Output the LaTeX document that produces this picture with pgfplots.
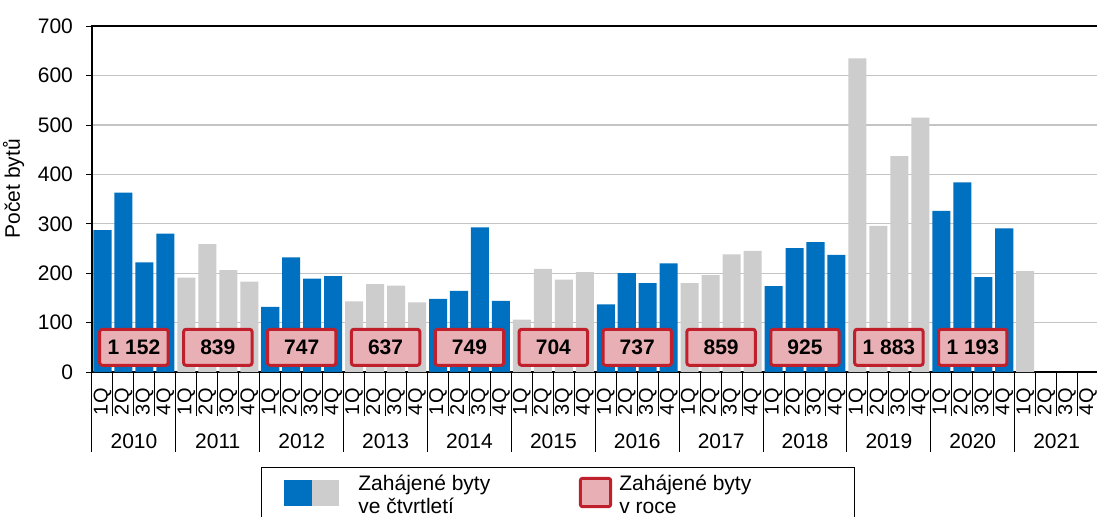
\documentclass[border=0pt]{standalone}
\usepackage{fontspec}
\setmainfont{Liberation Sans}
\usepackage{pgfplots}
\pgfplotsset{compat=1.18}
\definecolor{csublue}{HTML}{0070C0}
\definecolor{csugrey}{HTML}{CDCDCD}
\definecolor{boxred}{HTML}{C0202C}
\definecolor{boxpink}{HTML}{E8B0B4}
\definecolor{gridgrey}{HTML}{C4C4C4}

\begin{document}
\begin{tikzpicture}[font=\fontsize{10.5}{12}\selectfont]
\begin{axis}[
  scale only axis, width=503.3pt, height=172.9pt,
  xmin=-0.5, xmax=47.5, ymin=0, ymax=700,
  ytick={0,100,...,700},
  ymajorgrids, major grid style={gridgrey, line width=0.6pt},
  axis line style={line width=1.2pt},
  ytick pos=left, tick align=outside, major tick length=3pt,
  ytick style={black, line width=0.5pt},
  yticklabel style={xshift=-3pt},
  xtick=\empty,
  /pgf/number format/assume math mode=true,
  ylabel={Počet bytů},
  ylabel style={at={(ticklabel cs:0.53)}},
  clip=false,
]
% quarters of the blue years
\addplot[ybar, bar width=0.86, bar shift=0pt, fill=csublue, draw=none] coordinates {
 (0,287) (1,363) (2,222) (3,280)
 (8,132) (9,232) (10,189) (11,194)
 (16,148) (17,164) (18,293) (19,144)
 (24,137) (25,200) (26,180) (27,220)
 (32,174) (33,251) (34,263) (35,237)
 (40,326) (41,384) (42,192) (43,291)
};
% quarters of the grey years
\addplot[ybar, bar width=0.86, bar shift=0pt, fill=csugrey, draw=none] coordinates {
 (4,191) (5,259) (6,206) (7,183)
 (12,143) (13,178) (14,175) (15,141)
 (20,106) (21,209) (22,187) (23,202)
 (28,180) (29,196) (30,238) (31,245)
 (36,635) (37,296) (38,437) (39,515)
 (44,204)
};
% year totals
\addplot[draw=none, mark=none, nodes near coords, point meta=explicit symbolic,
  nodes near coords style={anchor=center, draw=boxred, fill=boxpink, line width=1.5pt,
    rounded corners=1.2pt, minimum width=34.2pt, minimum height=18pt, inner sep=0pt,
    text=black, font=\bfseries\fontsize{10.5}{12}\selectfont}]
 coordinates {
 (1.5,50) [1~152] (5.5,50) [839] (9.5,50) [747] (13.5,50) [637]
 (17.5,50) [749] (21.5,50) [704] (25.5,50) [737] (29.5,50) [859]
 (33.5,50) [925] (37.5,50) [1~883] (41.5,50) [1~193]
};
% separators and labels under the axis
\pgfplotsinvokeforeach{-0.5,0.5,...,47.5}{
  \draw[line width=0.5pt] (axis cs:#1,0) -- ([yshift=-22pt]axis cs:#1,0);
}
\pgfplotsinvokeforeach{-0.5,3.5,...,47.5}{
  \draw[line width=0.5pt] (axis cs:#1,0) -- ([yshift=-40pt]axis cs:#1,0);
}
\pgfplotsinvokeforeach{0,...,47}{
  \node[rotate=90, anchor=east, inner sep=0pt, font=\fontsize{10}{12}\selectfont]
    at ([yshift=-8pt]axis cs:#1,0) {\pgfmathtruncatemacro\q{mod(#1,4)+1}\q Q};
}
\pgfplotsinvokeforeach{1.5,5.5,...,45.5}{
  \node[anchor=center] at ([yshift=-34.5pt]axis cs:#1,0)
    {\pgfmathtruncatemacro\yr{2010+(#1-1.5)/4}\yr};
}
\end{axis}
% legend
\draw[line width=0.5pt] (84.5pt,-47.5pt) rectangle (381pt,-95pt);
\fill[csublue] (96pt,-54pt) rectangle (110pt,-67pt);
\fill[csugrey] (110pt,-54pt) rectangle (123.5pt,-67pt);
\node[anchor=base west, inner sep=0pt] at (133pt,-59pt) {Zahájené byty};
\node[anchor=base west, inner sep=0pt] at (133pt,-70.5pt) {ve čtvrtletí};
\draw[boxred, fill=boxpink, line width=1.5pt, rounded corners=1pt]
  (244.2pt,-53.2pt) rectangle (259.3pt,-67.3pt);
\node[anchor=base west, inner sep=0pt] at (263.5pt,-59pt) {Zahájené byty};
\node[anchor=base west, inner sep=0pt] at (263.5pt,-70.5pt) {v roce};
\pgfresetboundingbox
\useasboundingbox (-46pt,-72pt) rectangle (502.5pt,186pt);
\end{tikzpicture}
\end{document}
